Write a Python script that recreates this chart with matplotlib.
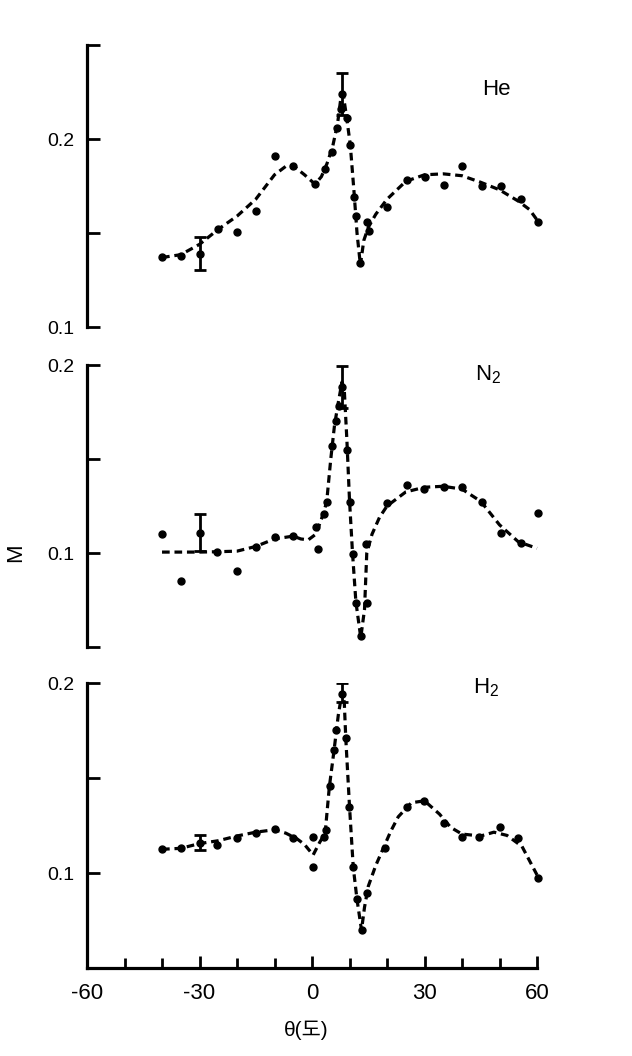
import matplotlib
matplotlib.use("Agg")
import matplotlib.pyplot as plt
from matplotlib.ticker import FixedLocator

# ---------------- data ----------------
he_px = [-40, -35, -30, -25, -20, -15, -10, -5, 0.8, 3.5, 5.3, 6.7, 7.6, 8.0, 9.3, 10.2, 11.1, 11.8, 12.9, 14.6, 15.1, 20, 25.3, 30.2, 35.3, 40, 45.4, 50.3, 55.6, 60.2]
he_py = [0.137, 0.138, 0.139, 0.152, 0.1505, 0.162, 0.191, 0.1855, 0.176, 0.184, 0.193, 0.206, 0.216, 0.224, 0.211, 0.197, 0.169, 0.159, 0.134, 0.156, 0.151, 0.164, 0.178, 0.180, 0.1755, 0.1856, 0.175, 0.175, 0.168, 0.156]
he_cx = [-40, -35, -30, -25, -20, -15, -10, -7, -5, -2, 0.8, 2.5, 4, 5.5, 6.8, 7.7, 8.3, 9.2, 10.2, 11.2, 12, 12.9, 13.8, 15, 17, 20, 25, 30, 35, 40, 45, 50, 55, 58, 60]
he_cy = [0.137, 0.1385, 0.144, 0.152, 0.159, 0.168, 0.181, 0.1855, 0.1858, 0.181, 0.176, 0.180, 0.187, 0.196, 0.208, 0.222, 0.224, 0.212, 0.197, 0.172, 0.150, 0.133, 0.146, 0.153, 0.160, 0.168, 0.1775, 0.181, 0.1815, 0.1805, 0.177, 0.173, 0.167, 0.1625, 0.157]
he_ex = [-30, 8.0]
he_ey = [0.139, 0.224]
he_ee = [0.0087, 0.011]

n2_px = [-40, -35, -30, -25.3, -20, -15, -10, -5, 1.1, 1.7, 3.1, 3.9, 5.3, 6.3, 7.2, 8.0, 9.2, 10.0, 10.8, 11.8, 13.0, 14.6, 14.3, 20.1, 25.3, 29.9, 35.3, 40.0, 45.4, 50.3, 55.6, 60.2]
n2_py = [0.110, 0.0853, 0.1108, 0.1007, 0.0906, 0.103, 0.1087, 0.109, 0.114, 0.102, 0.121, 0.127, 0.157, 0.170, 0.178, 0.1885, 0.155, 0.127, 0.0995, 0.0732, 0.0558, 0.0732, 0.105, 0.1264, 0.136, 0.134, 0.1353, 0.1353, 0.1273, 0.1108, 0.1051, 0.1214]
n2_cx = [-40, -30, -25, -20, -15, -10, -5, -3, -1, 1, 2.5, 3.9, 5, 6, 7, 8, 8.6, 9.3, 10, 10.8, 11.7, 13.0, 14.0, 14.6, 16, 18, 20, 25, 30, 35, 40, 45, 48, 50, 55, 60]
n2_cy = [0.1005, 0.1005, 0.1007, 0.101, 0.1035, 0.1075, 0.109, 0.1075, 0.107, 0.110, 0.118, 0.127, 0.150, 0.168, 0.180, 0.191, 0.187, 0.160, 0.128, 0.100, 0.074, 0.055, 0.070, 0.100, 0.110, 0.119, 0.125, 0.1325, 0.135, 0.1355, 0.134, 0.1275, 0.120, 0.115, 0.106, 0.1025]
n2_ex = [-30, 8.0]
n2_ey = [0.1108, 0.1885]
n2_ee = [0.0098, 0.0112]

h2_px = [-40, -35, -30, -25.3, -20, -15, -10, -5, 0.3, 0.3, 3.2, 3.7, 4.7, 5.9, 6.5, 8.0, 9.0, 9.9, 10.9, 12.0, 13.2, 14.6, 19.5, 25.3, 29.8, 35.3, 40.0, 44.5, 50.1, 55.0, 60.2]
h2_py = [0.1125, 0.113, 0.116, 0.1147, 0.1186, 0.1209, 0.123, 0.1183, 0.1033, 0.119, 0.1191, 0.1226, 0.1458, 0.1647, 0.1753, 0.1942, 0.1709, 0.1349, 0.1033, 0.0862, 0.070, 0.0893, 0.113, 0.1349, 0.138, 0.1265, 0.1191, 0.1188, 0.1244, 0.1183, 0.0972]
h2_cx = [-40, -35, -30, -25, -20, -15, -10, -7, -4, -2, 0.3, 2, 3.5, 4.6, 5.9, 7.0, 8.0, 8.6, 9.0, 10, 11, 12, 13.2, 14, 15, 17, 19, 21, 23, 26.5, 30, 34, 37, 40, 45, 48.5, 52, 56, 60]
h2_cy = [0.1125, 0.113, 0.1155, 0.117, 0.1195, 0.1215, 0.1228, 0.121, 0.118, 0.115, 0.1095, 0.116, 0.121, 0.145, 0.165, 0.183, 0.195, 0.190, 0.171, 0.135, 0.103, 0.086, 0.070, 0.082, 0.093, 0.104, 0.113, 0.122, 0.1296, 0.137, 0.138, 0.131, 0.124, 0.1205, 0.1195, 0.1215, 0.1198, 0.114, 0.099]
h2_ex = [-30, 8.0]
h2_ey = [0.116, 0.195]
h2_ee = [0.004, 0.0052]

panel_names = ["He", r"$\mathrm{N_2}$", r"$\mathrm{H_2}$"]
x_ticks = [-60, -30, 0, 30, 60]
x_minor = [-50, -40, -20, -10, 10, 20, 40, 50]

# ---------------- style ----------------
plt.rcParams['font.family'] = ['Liberation Sans', 'Noto Sans CJK KR', 'DejaVu Sans']
plt.rcParams['mathtext.fontset'] = 'custom'
plt.rcParams['mathtext.rm'] = 'Liberation Sans'
plt.rcParams['mathtext.it'] = 'Liberation Sans'

fig = plt.figure(figsize=(6.32, 10.56), dpi=100)
left, width = 0.1377, 0.712
positions = [
    [left, 0.6903, width, 0.267],
    [left, 0.3873, width, 0.267],
    [left, 0.0833, width, 0.2699],
]
ylims = [(0.1, 0.25), (0.05, 0.2), (0.05, 0.2)]
yticks = [[0.1, 0.15, 0.2, 0.25], [0.05, 0.1, 0.15, 0.2], [0.05, 0.1, 0.15, 0.2]]
ylabels = [["0.1", "", "0.2", ""], ["", "0.1", "", "0.2"], ["", "0.1", "", "0.2"]]
label_pos = [(45.3, 0.2266), (43.5, 0.1947), (43.0, 0.1974)]

series = [
    (he_px, he_py, he_cx, he_cy, he_ex, he_ey, he_ee),
    (n2_px, n2_py, n2_cx, n2_cy, n2_ex, n2_ey, n2_ee),
    (h2_px, h2_py, h2_cx, h2_cy, h2_ex, h2_ey, h2_ee),
]

for i, (pos, (px, py, cx, cy, ex, ey, ee)) in enumerate(zip(positions, series)):
    ax = fig.add_axes(pos)
    ax.set_xlim(-60, 60)
    ax.set_ylim(*ylims[i])
    ax.patch.set_alpha(0)
    for s in ['top', 'right']:
        ax.spines[s].set_visible(False)
    ax.spines['left'].set_linewidth(2.3)
    if i < 2:
        ax.spines['bottom'].set_visible(False)
        ax.set_xticks([])
    else:
        ax.spines['bottom'].set_linewidth(2.3)
        ax.set_xticks(x_ticks)
        ax.set_xticklabels([str(v) for v in x_ticks])
        ax.xaxis.set_minor_locator(FixedLocator(x_minor))
        ax.tick_params(axis='x', which='major', direction='in', length=9, width=2.0,
                       pad=11, labelsize=16)
        ax.tick_params(axis='x', which='minor', direction='in', length=7, width=2.0)
    ax.set_yticks(yticks[i])
    ax.set_yticklabels(ylabels[i])
    ax.tick_params(axis='y', direction='in', length=9, width=2.0, pad=9, labelsize=14)

    line, = ax.plot(cx, cy, color='black', lw=2.3, ls='--', clip_on=False)
    line.set_dashes((2.4, 1.5))
    ax.plot(px, py, 'o', color='black', ms=5, mec='black', clip_on=False)
    eb = ax.errorbar(ex, ey, yerr=ee, fmt='none', ecolor='black', elinewidth=2.0,
                     capsize=4, capthick=2.0)
    ax.text(label_pos[i][0], label_pos[i][1], panel_names[i], ha='left', va='center',
            fontsize=16)

fig.text(16 / 632, 1 - 553 / 1056, 'M', rotation=90, ha='center', va='center', fontsize=16)
fig.text(306 / 632, 1 - 1030 / 1056, 'θ(도)', ha='center', va='center', fontsize=15)

fig.savefig('out.png', dpi=100)
